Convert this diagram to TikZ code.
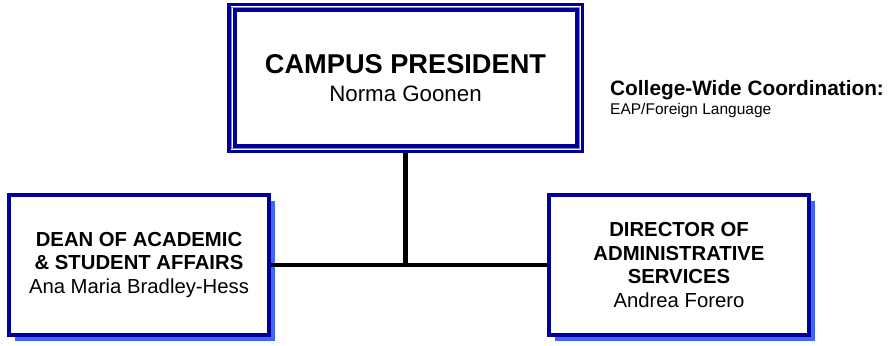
\documentclass[tikz,border=0pt]{standalone}
\usepackage{fontspec}
\setmainfont{Liberation Sans}
\usetikzlibrary{shadows}
\definecolor{frameblue}{RGB}{0,0,153}
\definecolor{shadeblue}{RGB}{64,100,255}
\definecolor{thinblue}{RGB}{120,130,215}

\begin{document}
\begin{tikzpicture}[x=1pt,y=-1pt,
  office/.style={draw=frameblue,line width=3.5pt,fill=white,minimum width=260pt,minimum height=140pt,
    inner sep=0pt,align=center,font=\fontsize{20.3}{23.5}\selectfont,
    drop shadow={shadow xshift=6pt,shadow yshift=-6pt,fill=shadeblue,opacity=1}},
  link/.style={line width=4.5pt},
  note/.style={anchor=base west,inner sep=0pt}]
  \useasboundingbox (0,0) rectangle (890,345);
  \node[draw=frameblue,line width=3.5pt,minimum width=353.5pt,minimum height=146.5pt] (presframe) at (405.5,78) {};
  \node[draw=thinblue,line width=0.8pt,minimum width=348pt,minimum height=141pt] (presline) at (405.5,78) {};
  \node[draw=frameblue,line width=4pt,minimum width=342pt,minimum height=135pt,align=center,
    font=\fontsize{22.3}{28}\selectfont] (pres) at (405.5,78)
    {{\fontsize{27.2}{28}\selectfont\bfseries CAMPUS PRESIDENT}\\Norma Goonen};
  \node[office] (dean) at (139,265)
    {{\bfseries DEAN OF ACADEMIC}\\{\bfseries \& STUDENT AFFAIRS}\\Ana Maria Bradley-Hess};
  \node[office] (admin) at (679,265)
    {{\bfseries DIRECTOR OF}\\{\bfseries ADMINISTRATIVE}\\{\bfseries SERVICES}\\Andrea Forero};
  \draw[link] (presframe.south) -- (presframe.south |- dean.east);
  \draw[link] (dean.east) -- (admin.west);
  \node[note,font=\fontsize{20.8}{24}\selectfont\bfseries] (coord) at (610,95) {College-Wide Coordination:};
  \node[note,font=\fontsize{15.5}{18}\selectfont] (coordarea) at (610,114) {EAP/Foreign Language};
\end{tikzpicture}
\end{document}
